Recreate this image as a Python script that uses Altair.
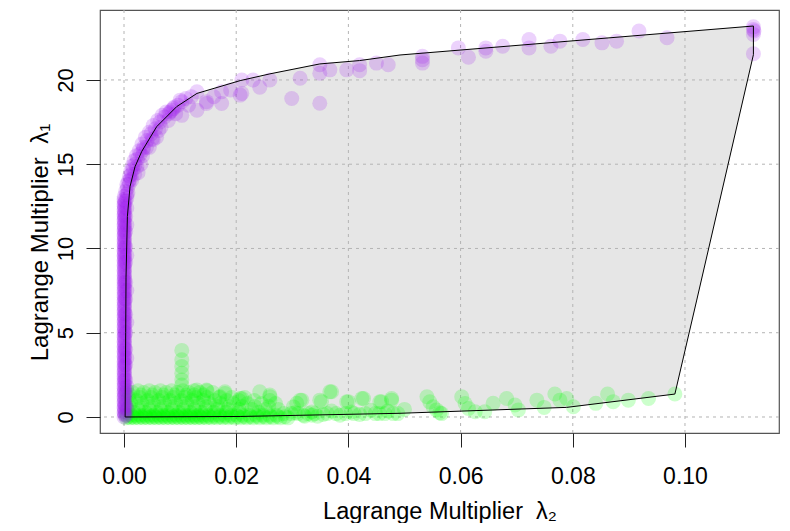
import altair as alt
import pandas as pd

# ---------------- data ----------------
x_ticks = [0.00, 0.02, 0.04, 0.06, 0.08, 0.10]
y_ticks = [0, 5, 10, 15, 20]

# boundary polygon (upper curve, right edge, lower curve)
poly_x = [0.0002, 0.0003, 0.00036, 0.0006, 0.00107, 0.00196, 0.00315, 0.00583, 0.0094, 0.013,
          0.0207, 0.026, 0.0349, 0.042, 0.0492, 0.1122, 0.1122, 0.1021, 0.0982, 0.0789,
          0.0492, 0.0207, 0.0002]
poly_y = [0.0, 5.0, 8.3, 11.9, 13.67, 14.85, 15.75, 17.23, 18.42, 19.2,
          19.96, 20.36, 20.95, 21.15, 21.48, 23.2, 21.5, 6.94, 1.36, 0.57,
          0.22, 0.03, 0.0]

# purple points: dense column at lambda2 ~ 0
purple_col_a_y = [0.0, 0.3, 0.6, 0.9, 1.2, 1.5, 1.8, 2.1, 2.4, 2.7, 3.0, 3.3, 3.6, 3.9, 4.2, 4.5,
                  4.8, 5.1, 5.4, 5.7, 6.0, 6.3, 6.6, 6.9, 7.2, 7.5, 7.8, 8.1, 8.4, 8.7, 9.0, 9.3,
                  9.6, 9.9, 10.2, 10.5, 10.8, 11.1, 11.4, 11.7, 12.0, 12.3, 12.6, 12.9]
purple_col_a2_y = [0.1, 0.4, 0.7, 1.0, 1.3, 1.6, 1.9, 2.2, 2.5, 2.8, 3.1, 3.4, 3.7, 4.0, 4.3, 4.6,
                   4.9, 5.2, 5.5, 5.8, 6.1, 6.4, 6.7, 7.0, 7.3, 7.6, 7.9, 8.2, 8.5, 8.8, 9.1, 9.4,
                   9.7, 10.0, 10.3, 10.6, 10.9, 11.2, 11.5, 11.8, 12.1, 12.4, 12.7]
purple_col_a3_y = [0.2, 0.5, 0.8, 1.1, 1.4, 1.7, 2.0, 2.3, 2.6, 2.9, 3.2, 3.5, 3.8, 4.1, 4.4, 4.7,
                   5.0, 5.3, 5.6, 5.9, 6.2, 6.5, 6.8, 7.1, 7.4, 7.7, 8.0, 8.3, 8.6, 8.9, 9.2, 9.5,
                   9.8, 10.1, 10.4, 10.7, 11.0, 11.3, 11.6, 11.9, 12.2, 12.5, 12.8, 13.1]
purple_col_b_y = [0.1, 0.7, 1.4, 2.2, 3.1, 4.0, 5.0, 6.1, 7.0, 8.0, 9.2, 10.1, 11.0, 11.9, 12.8, 13.4]
purple_col_c_y = [0.5, 1.8, 3.5, 5.6, 7.5, 9.6, 11.4, 12.4, 13.2, 13.8]
purple_curve_x = [0.0005, 0.0006, 0.0008, 0.001, 0.0012, 0.0015, 0.0018, 0.0022, 0.0027, 0.0032,
                  0.0038, 0.0045, 0.0052, 0.006, 0.0068, 0.0075,
                  0.0007, 0.0009, 0.0011, 0.0013, 0.0016, 0.002, 0.0024, 0.0029, 0.0035, 0.0041,
                  0.0048, 0.0056, 0.0064, 0.0072, 0.008, 0.0088, 0.0096,
                  0.0025, 0.003, 0.0045, 0.0058, 0.0019, 0.0033, 0.005, 0.0066, 0.0079, 0.0092,
                  0.0014, 0.0023, 0.0034, 0.0052, 0.004, 0.0062, 0.0082, 0.0085, 0.0103, 0.01,
                  0.0103, 0.013, 0.013, 0.0147, 0.0147, 0.0174, 0.0174, 0.0207, 0.021, 0.021,
                  0.023, 0.0242, 0.026, 0.0299, 0.0314, 0.0349, 0.0349, 0.0349, 0.0367, 0.0397,
                  0.042, 0.042, 0.045, 0.0471, 0.0532, 0.0532, 0.0532, 0.0596, 0.0614, 0.0645,
                  0.0645, 0.0675, 0.0722, 0.0722, 0.0761, 0.0777, 0.0818, 0.0852, 0.0878, 0.0918,
                  0.0968, 0.1122, 0.1123, 0.1122, 0.1122, 0.1122,
                  0.009, 0.011, 0.0115, 0.012, 0.016, 0.019]
purple_curve_y = [13.0, 13.6, 14.0, 14.3, 14.6, 14.9, 15.2, 15.5, 15.8, 16.2,
                  16.6, 16.9, 17.3, 17.6, 17.9, 18.1,
                  13.3, 13.8, 14.1, 14.4, 14.7, 15.0, 15.3, 15.6, 16.0, 16.4,
                  16.8, 17.1, 17.5, 17.8, 18.0, 18.3, 18.5,
                  14.5, 15.0, 16.0, 16.6, 14.4, 15.5, 16.5, 17.2, 17.6, 18.0,
                  14.07, 14.85, 15.85, 16.45, 16.0, 17.0, 18.1, 18.2, 17.9, 18.8,
                  18.71, 19.3, 18.2, 18.6, 18.71, 19.3, 18.6, 19.1, 20.0, 19.2,
                  20.0, 19.57, 20.0, 18.9, 20.1, 18.62, 20.9, 20.4, 20.6, 20.6,
                  20.9, 20.55, 21.0, 20.9, 21.4, 21.2, 21.0, 21.9, 21.35, 21.9,
                  21.7, 22.0, 22.4, 21.9, 22.0, 22.3, 22.4, 22.2, 22.3, 22.9,
                  22.5, 23.15, 22.9, 22.7, 23.0, 21.55,
                  18.4, 18.9, 18.5, 19.0, 19.0, 19.4]

# green points: dense band near lambda1 ~ 0 (one list of lambda2 values per row)
green_rows_y = [-0.05, 0.02, 0.1, 0.45, 0.8, 1.15, 1.45, 0.28, 1.3, 0.62, 0.98, 1.55, 0.2]
green_row1_x = [0.0004, 0.0011, 0.0018, 0.0026, 0.0034, 0.0042, 0.005, 0.0058, 0.0066, 0.0074,
                0.0082, 0.009, 0.0098, 0.0106, 0.0114, 0.0122, 0.013, 0.0138, 0.0147, 0.0156,
                0.0166, 0.0176, 0.0186, 0.0197, 0.0208, 0.0219, 0.023, 0.0242, 0.0254, 0.0266,
                0.0279, 0.0292]
green_row2_x = [0.0007, 0.0015, 0.0023, 0.0031, 0.0039, 0.0047, 0.0055, 0.0063, 0.0071, 0.0079,
                0.0087, 0.0095, 0.0103, 0.0111, 0.0119, 0.0127, 0.0135, 0.0143, 0.0152, 0.0161,
                0.0171, 0.0181, 0.0192, 0.0203, 0.0214, 0.0225, 0.0237, 0.0249, 0.0261, 0.0274,
                0.0287]
green_row3_x = [0.0005, 0.0013, 0.0021, 0.0029, 0.0037, 0.0045, 0.0053, 0.0061, 0.0069, 0.0077,
                0.0085, 0.0093, 0.0101, 0.0109, 0.0117, 0.0125, 0.0133, 0.0141, 0.015, 0.016,
                0.017, 0.018, 0.019, 0.0201, 0.0212, 0.0224, 0.0236, 0.0248, 0.026, 0.0272]
green_row4_x = [0.0006, 0.0025, 0.0045, 0.0065, 0.0085, 0.0105, 0.0125, 0.0145, 0.0165, 0.0185,
                0.0205, 0.0228, 0.0252, 0.0275]
green_row5_x = [0.0012, 0.0032, 0.0052, 0.0072, 0.0092, 0.0112, 0.0132, 0.0152, 0.0172, 0.0195,
                0.022, 0.0245, 0.027]
green_row6_x = [0.0008, 0.0028, 0.0048, 0.0068, 0.0088, 0.0108, 0.0128, 0.0148, 0.017, 0.0192,
                0.0215]
green_row7_x = [0.0015, 0.0035, 0.0055, 0.0075, 0.0095, 0.0115, 0.0135, 0.0158]
green_row8_x = [0.0003, 0.0018, 0.0038, 0.0058, 0.0078, 0.0098, 0.0118, 0.0138, 0.016, 0.0182,
                0.0205, 0.024]
green_row9_x = [0.001, 0.003, 0.005, 0.007, 0.009, 0.011, 0.0125, 0.0142]
green_row10_x = [0.0009, 0.0027, 0.0047, 0.0067, 0.0087, 0.0107, 0.0127, 0.0147, 0.0167, 0.0187,
                 0.021, 0.0233, 0.0258]
green_row11_x = [0.0004, 0.0022, 0.0042, 0.0062, 0.0082, 0.0102, 0.0122, 0.0142, 0.0162, 0.0183,
                 0.0205, 0.0232, 0.026]
green_row12_x = [0.0005, 0.0025, 0.0045, 0.0065, 0.0085, 0.0105, 0.0125, 0.0148]
green_row13_x = [0.0285, 0.0298, 0.031, 0.0328, 0.034, 0.0362, 0.0378, 0.0395, 0.041, 0.043,
                 0.0448, 0.0465, 0.048]
green_spike_y = [1.9, 2.2, 2.6, 3.0, 3.4, 3.95]
green_extra_x = [0.013, 0.0147, 0.0171, 0.018, 0.018, 0.0207, 0.021, 0.0242, 0.026, 0.026,
                 0.0302, 0.0308, 0.0314, 0.0317, 0.0349, 0.0352, 0.0367, 0.037, 0.0397, 0.04,
                 0.0424, 0.0427, 0.0456, 0.0459, 0.0477, 0.0477,
                 0.0305, 0.032, 0.0335, 0.0355, 0.037, 0.0385, 0.0405, 0.042, 0.044, 0.0455,
                 0.047, 0.0488, 0.05, 0.0322, 0.0335, 0.0345,
                 0.054, 0.0545, 0.0551, 0.0557, 0.0563, 0.0566, 0.0602, 0.0608, 0.0614, 0.0626,
                 0.0643, 0.0658, 0.0682, 0.0697, 0.0703, 0.0736, 0.0749, 0.0768, 0.0777, 0.0789,
                 0.0801, 0.0841, 0.0862, 0.0872, 0.0899, 0.0935, 0.0982]
green_extra_y = [1.6, 1.6, 1.2, 1.5, 1.4, 1.1, 1.1, 1.5, 1.2, 1.3,
                 0.6, 0.81, 1.0, 1.0, 1.0, 0.91, 1.5, 1.5, 0.9, 0.91,
                 1.1, 1.1, 0.9, 0.91, 1.0, 1.1,
                 0.25, 0.1, 0.3, 0.15, 0.35, 0.1, 0.3, 0.15, 0.4, 0.2,
                 0.35, 0.2, 0.45, 0.05, 0.1, 0.05,
                 1.2, 0.9, 0.61, 0.42, 0.25, 0.2, 1.2, 0.8, 0.51, 0.31,
                 0.31, 0.81, 1.1, 0.71, 0.42, 1.0, 0.57, 1.36, 1.0, 1.1,
                 0.61, 0.81, 1.36, 0.91, 1.0, 1.1, 1.36]

# ---------------- tables ----------------
poly_df = pd.DataFrame({"x": poly_x, "y": poly_y, "o": list(range(len(poly_x)))})

pu = [(0.0, v) for v in purple_col_a_y] + [(0.0001, v) for v in purple_col_a2_y] + \
     [(0.00005, v) for v in purple_col_a3_y] + [(0.0003, v) for v in purple_col_b_y] + \
     [(0.0005, v) for v in purple_col_c_y] + list(zip(purple_curve_x, purple_curve_y))
purple_df = pd.DataFrame(pu, columns=["x", "y"])

rows = [green_row1_x, green_row2_x, green_row3_x, green_row4_x, green_row5_x, green_row6_x,
        green_row7_x, green_row8_x, green_row9_x, green_row10_x, green_row11_x, green_row12_x,
        green_row13_x]
gr = []
for ry, rx in zip(green_rows_y, rows):
    gr += [(xv, ry) for xv in rx]
gr += [(0.0103, v) for v in green_spike_y]
gr += list(zip(green_extra_x, green_extra_y))
green_df = pd.DataFrame(gr, columns=["x", "y"])

xgrid_df = pd.DataFrame({"x": x_ticks})
ygrid_df = pd.DataFrame({"y": y_ticks})

# ---------------- encodings ----------------
FONT = "Liberation Sans"
xscale = alt.Scale(domain=[-0.00428, 0.11676], nice=False, zero=False)
yscale = alt.Scale(domain=[-0.95, 24.15], nice=False, zero=False)

xaxis = alt.Axis(values=x_ticks, format=".2f", grid=False, domain=False, tickSize=14,
                 tickColor="#222222", labelFontSize=23, labelFont=FONT, labelColor="black",
                 labelPadding=18, labelFlush=False, labelOverlap=False,
                 title="Lagrange Multiplier\u00a0 λ₂", titleFont=FONT, titleFontSize=23.5,
                 titleFontWeight="normal", titleColor="black", titleBaseline="alphabetic",
                 titleY=85)
yaxis = alt.Axis(values=y_ticks, format="d", grid=False, domain=False, tickSize=14,
                 tickColor="#222222", labelFontSize=22, labelFont=FONT, labelColor="black",
                 labelAngle=-90, labelAlign="center", labelBaseline="alphabetic",
                 labelPadding=14, labelFlush=False, labelOverlap=False,
                 title="Lagrange Multiplier\u00a0 λ₁", titleFont=FONT, titleFontSize=24,
                 titleFontWeight="normal", titleColor="black", titleAngle=-90,
                 titleAlign="center", titleBaseline="alphabetic", titleX=-53, titleY=232)

X = alt.X("x:Q", scale=xscale, axis=xaxis)
Y = alt.Y("y:Q", scale=yscale, axis=yaxis)

poly_fill = alt.Chart(poly_df).mark_line(fill="#E6E6E6", stroke="transparent").encode(
    x=X, y=Y, order="o:Q")
vgrid = alt.Chart(xgrid_df).mark_rule(color="#B4B4B4", strokeDash=[3, 4], strokeWidth=1).encode(x=X)
hgrid = alt.Chart(ygrid_df).mark_rule(color="#B4B4B4", strokeDash=[3, 4], strokeWidth=1).encode(y=Y)
green = alt.Chart(green_df).mark_circle(size=225, color="#00FF00", opacity=0.2).encode(x=X, y=Y)
purple = alt.Chart(purple_df).mark_circle(size=225, color="#A020F0", opacity=0.2).encode(x=X, y=Y)
outline = alt.Chart(poly_df).mark_line(color="black", strokeWidth=1).encode(x=X, y=Y, order="o:Q")

chart = alt.layer(poly_fill, vgrid, hgrid, green, purple, outline).properties(
    width=679, height=423,
    padding={"left": 92, "top": 2, "right": 3, "bottom": 90},
    autosize=alt.AutoSizeParams(type="none"),
    background="white",
).configure_view(stroke="#555555", strokeWidth=1.2)

chart.save("out.html", embed_options={"renderer": "svg", "actions": False})
